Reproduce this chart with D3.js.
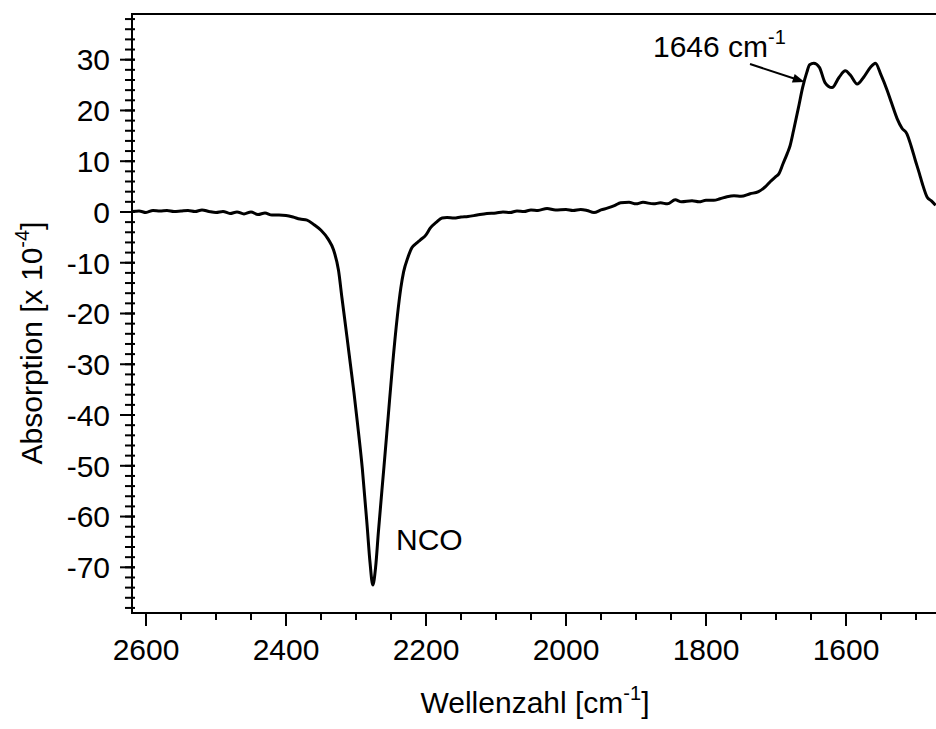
<!DOCTYPE html>
<html>
<head>
<meta charset="utf-8">
<script src="https://cdn.jsdelivr.net/npm/d3@7"></script>
<style>
  html, body { margin: 0; padding: 0; background: #fff; }
  svg { display: block; }
  text { font-family: "Liberation Sans", Arial, Helvetica, sans-serif; fill: #000; }
</style>
</head>
<body>
<svg id="chart" width="936" height="729"></svg>
<script>
// ---- data ----
const wavenumber = [2620,2610,2600,2590,2580,2570,2560,2550,2540,2530,2520,2510,2500,2490,2480,2470,2460,2450,2440,2430,2420,2410,2400,2390,2380,2370,2360,2350,2340,2332,2325,2320,2313,2308,2303,2298,2291,2284,2280,2276,2272,2268,2260,2254,2248,2241,2236,2232,2226,2220,2214,2208,2200,2194,2185,2177,2170,2160,2150,2140,2127,2113,2100,2090,2080,2070,2060,2050,2040,2027,2015,2000,1990,1979,1970,1960,1950,1940,1930,1922,1910,1900,1890,1875,1865,1855,1844,1835,1820,1810,1800,1789,1780,1770,1760,1750,1737,1725,1715,1708,1700,1696,1690,1684,1680,1675,1668,1662,1656,1652,1646,1638,1630,1620,1610,1601,1594,1584,1575,1565,1558,1550,1541,1535,1527,1520,1513,1507,1501,1495,1491,1484,1478,1472];
const absorption = [0.1,0.2,-0.1,0.3,0.2,0.3,0.1,0.2,0.3,0.1,0.4,0.1,-0.1,0.1,-0.3,0.0,-0.4,0.0,-0.5,-0.2,-0.6,-0.6,-0.7,-1.0,-1.4,-1.6,-2.5,-3.6,-5.3,-7.5,-11.5,-17,-24.5,-30,-35.5,-41.5,-50.5,-62,-69,-73.5,-70,-63,-50.1,-40.3,-30.5,-20.6,-15,-11.8,-9,-7,-6.2,-5.5,-4.5,-3.2,-2.0,-1.2,-1.1,-1.2,-1.0,-0.9,-0.6,-0.3,-0.2,0.0,-0.1,0.2,0.1,0.4,0.3,0.7,0.4,0.5,0.3,0.5,0.3,-0.1,0.4,0.8,1.3,1.8,1.9,1.6,1.9,1.6,1.8,1.6,2.4,2.0,2.2,2.0,2.3,2.3,2.6,3.0,3.2,3.1,3.6,4.0,5.0,6.0,7.0,7.5,9.5,11.5,13,16,20.5,24.5,27.5,29.0,29.3,28.5,25.5,24.5,26.5,27.8,27.0,25.2,26.5,28.5,29.3,27,23.9,21.5,18.4,16.5,15.4,13,10.2,7.5,5.6,2.9,2.2,1.3];

const xMajorTicks = [2600, 2400, 2200, 2000, 1800, 1600];
const xMinorTicks = d3.range(2600, 1450, -50);
const yMajorTicks = [30, 20, 10, 0, -10, -20, -30, -40, -50, -60, -70];
const yMinorTicks = d3.range(-78, 40, 2);

const xTitle = "Wellenzahl [cm";
const yTitle = "Absorption [x 10";
const peakLabel = "1646 cm";
const bandLabel = "NCO";

// ---- layout ----
const svg = d3.select("#chart");
const pL = 132, pR = 937, pT = 14, pB = 613;

const x = d3.scaleLinear().domain([2620, 1470]).range([pL, pR]);
const y = d3.scaleLinear().domain([-79, 39]).range([pB, pT]);

const data = wavenumber.map((w, i) => ({ w, v: absorption[i] }));

svg.append("defs").append("clipPath").attr("id", "clip")
  .append("rect").attr("x", pL).attr("y", pT).attr("width", pR - pL).attr("height", pB - pT);

// spectrum
svg.append("path")
  .datum(data)
  .attr("clip-path", "url(#clip)")
  .attr("fill", "none")
  .attr("stroke", "#000")
  .attr("stroke-width", 3)
  .attr("stroke-linejoin", "round")
  .attr("d", d3.line().x(d => x(d.w)).y(d => y(d.v)).curve(d3.curveMonotoneX));

// frame lines
svg.append("line").attr("x1", pL).attr("x2", 936).attr("y1", pT).attr("y2", pT)
  .attr("stroke", "#000").attr("stroke-width", 2);
svg.append("line").attr("x1", pL).attr("x2", pL).attr("y1", pT - 1).attr("y2", pB + 1)
  .attr("stroke", "#000").attr("stroke-width", 2);
svg.append("line").attr("x1", pL - 1).attr("x2", 936).attr("y1", pB).attr("y2", pB)
  .attr("stroke", "#000").attr("stroke-width", 2);

// y ticks
const gy = svg.append("g");
gy.selectAll("line.minor").data(yMinorTicks).join("line").attr("class", "minor")
  .attr("x1", pL - 7).attr("x2", pL + 3)
  .attr("y1", d => y(d)).attr("y2", d => y(d))
  .attr("stroke", "#000").attr("stroke-width", 2);
gy.selectAll("line.major").data(yMajorTicks).join("line").attr("class", "major")
  .attr("x1", pL - 12).attr("x2", pL + 3)
  .attr("y1", d => y(d)).attr("y2", d => y(d))
  .attr("stroke", "#000").attr("stroke-width", 2);
gy.selectAll("text").data(yMajorTicks).join("text")
  .attr("x", 110).attr("y", d => y(d))
  .attr("dy", "0.36em")
  .attr("text-anchor", "end")
  .attr("font-size", 30)
  .text(d => d);

// x ticks
const gx = svg.append("g");
gx.selectAll("line.minor").data(xMinorTicks).join("line").attr("class", "minor")
  .attr("y1", pB).attr("y2", pB + 7)
  .attr("x1", d => x(d)).attr("x2", d => x(d))
  .attr("stroke", "#000").attr("stroke-width", 2);
gx.selectAll("line.major").data(xMajorTicks).join("line").attr("class", "major")
  .attr("y1", pB).attr("y2", pB + 13)
  .attr("x1", d => x(d)).attr("x2", d => x(d))
  .attr("stroke", "#000").attr("stroke-width", 2);
gx.selectAll("text").data(xMajorTicks).join("text")
  .attr("x", d => x(d)).attr("y", 660)
  .attr("text-anchor", "middle")
  .attr("font-size", 30)
  .text(d => d);

// axis titles
const xt = svg.append("text").attr("x", 535).attr("y", 713)
  .attr("text-anchor", "middle").attr("font-size", 30);
xt.append("tspan").text(xTitle);
xt.append("tspan").attr("font-size", 20).attr("dy", -13).text("-1");
xt.append("tspan").attr("dy", 13).text("]");

const yt = svg.append("text")
  .attr("transform", "translate(42,343) rotate(-90)")
  .attr("text-anchor", "middle").attr("font-size", 30);
yt.append("tspan").text(yTitle);
yt.append("tspan").attr("font-size", 20).attr("dy", -13).text("-4");
yt.append("tspan").attr("dy", 13).text("]");

// annotations
svg.append("text").attr("x", 396).attr("y", 550).attr("font-size", 30).text(bandLabel);

const pl = svg.append("text").attr("x", 653).attr("y", 57).attr("font-size", 30);
pl.append("tspan").text(peakLabel);
pl.append("tspan").attr("font-size", 20).attr("dy", -13).text("-1");

// arrow pointing at the 1646 peak shoulder
const ax1 = 750, ay1 = 64, ax2 = x(1659), ay2 = 82;
const ang = Math.atan2(ay2 - ay1, ax2 - ax1);
svg.append("line").attr("x1", ax1).attr("y1", ay1)
  .attr("x2", ax2 - 8 * Math.cos(ang)).attr("y2", ay2 - 8 * Math.sin(ang))
  .attr("stroke", "#000").attr("stroke-width", 2);
const hl = 12, hw = 4.5;
const bx = ax2 - hl * Math.cos(ang), by = ay2 - hl * Math.sin(ang);
svg.append("path")
  .attr("d", `M${ax2},${ay2} L${bx - hw * Math.sin(ang)},${by + hw * Math.cos(ang)} L${bx + hw * Math.sin(ang)},${by - hw * Math.cos(ang)} Z`)
  .attr("fill", "#000");
</script>
</body>
</html>
